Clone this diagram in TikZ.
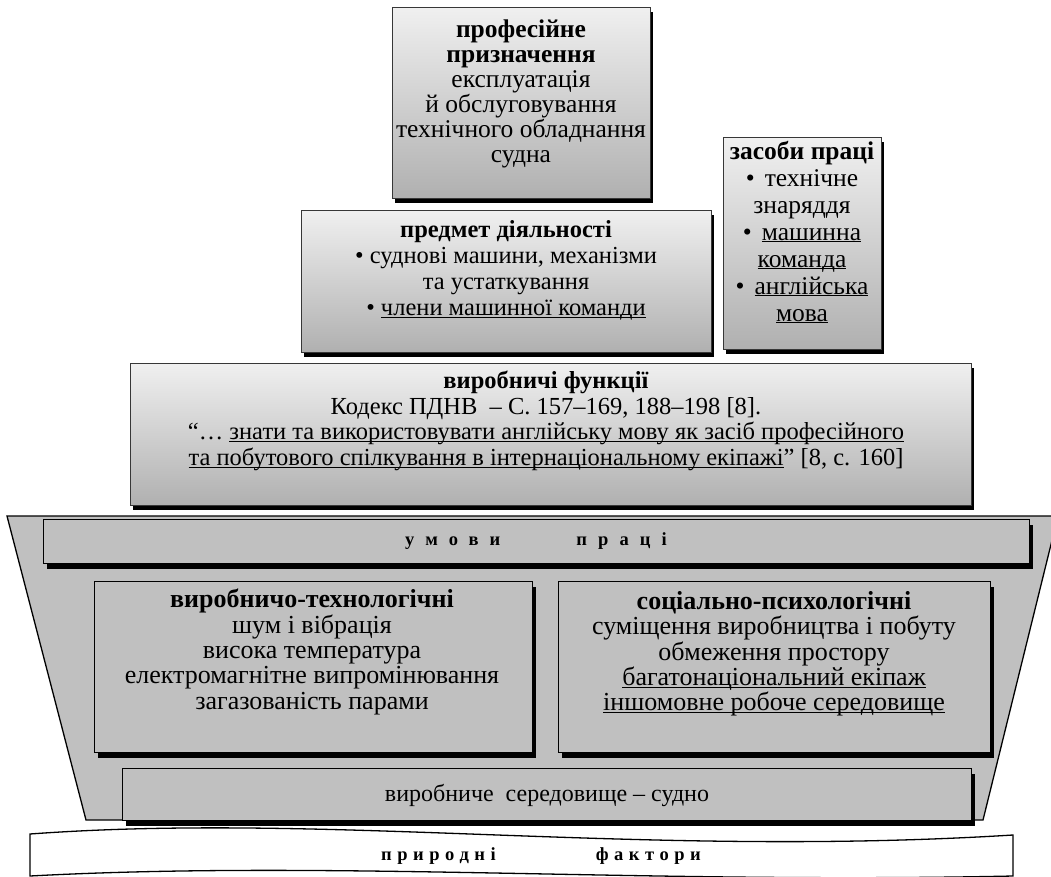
\documentclass[tikz,border=0pt]{standalone}
\usepackage{fontspec}
\setmainfont{Liberation Serif}
\usetikzlibrary{shadows}
\definecolor{bandgray}{RGB}{192,192,192}
\definecolor{boxedge}{RGB}{55,55,55}
\newcommand{\undl}[1]{\underline{\smash{#1}}}
\newcommand{\bul}{•\hspace{10pt}}
\tikzset{
  upbox/.style={draw=boxedge, line width=0.9pt, top color=white!94!black, bottom color=black!31, anchor=north west, inner sep=0pt,
    drop shadow={shadow xshift=3pt, shadow yshift=-5pt, fill=black, opacity=1}},
  lowbox/.style={draw=black, line width=1.1pt, fill=bandgray, anchor=north west, inner sep=0pt,
    drop shadow={shadow xshift=3pt, shadow yshift=-5pt, fill=black, opacity=1}},
  txt/.style={align=center, inner sep=0pt, font=\fontsize{26}{25.3}\selectfont},
  spaced/.style={inner sep=0pt, font=\fontsize{18.5}{20}\selectfont\bfseries\addfontfeature{LetterSpace=60}}
}

\begin{document}
\begin{tikzpicture}[x=1pt,y=-1pt]
  \useasboundingbox (0,0) rectangle (1051,877);

  % upper part
  \node[upbox, minimum width=258pt, minimum height=191pt] (prof) at (392,7) {};
  \node[txt, font=\fontsize{25.5}{25}\selectfont] (prof-t) at (521,94) {\textbf{професійне}\\\textbf{призначення}\\експлуатація\\й обслуговування\\технічного обладнання\\судна};

  \node[upbox, minimum width=158pt, minimum height=212pt] (zasob) at (723,137) {};
  \node[txt, font=\fontsize{25.5}{27}\selectfont] (zasob-t) at (802,232) {\textbf{засоби праці}\\\bul технічне\\знаряддя\\\bul\undl{машинна}\\\undl{команда}\\\bul\undl{англійська}\\\undl{мова}};

  \node[upbox, minimum width=410pt, minimum height=142pt] (predmet) at (301,210) {};
  \node[txt, font=\fontsize{24.5}{26}\selectfont] (predmet-t) at (506,269) {\textbf{предмет діяльності}\\• суднові машини, механізми\\та устаткування\\• \undl{члени машинної команди}};

  \node[upbox, minimum width=841pt, minimum height=142pt] (funk) at (130,363) {};
  \node[txt, font=\fontsize{24.5}{25.7}\selectfont] (funk-t) at (546,420) {\textbf{виробничі функції}\\Кодекс ПДНВ~ – С. 157–169, 188–198 [8].\\“… \undl{знати та використовувати англійську мову як засіб професійного}\\\undl{та побутового спілкування в інтернаціональному екіпажі}” [8, с. 160]};

  % conditions of work
  \path[draw=black, line width=1.3pt, fill=bandgray] (7,516) -- (1058,516) -- (983,820) -- (86,820) -- cycle;

  \node[lowbox, minimum width=986pt, minimum height=44pt] (umovy) at (43,519) {};
  \node[spaced] (umovy-t) at (536,541) {умови\hspace{76pt}праці};

  \node[lowbox, minimum width=438pt, minimum height=171pt] (tech) at (94,581) {};
  \node[txt] (tech-t) at (312,652) {\textbf{виробничо-технологічні}\\шум і вібрація\\висока температура\\електромагнітне випромінювання\\загазованість парами};

  \node[lowbox, minimum width=432pt, minimum height=171pt] (soc) at (558,581) {};
  \node[txt] (soc-t) at (774,652) {\textbf{соціально-психологічні}\\суміщення виробництва і побуту\\обмеження простору\\\undl{багатонаціональний екіпаж}\\\undl{іншомовне робоче середовище}};

  \node[lowbox, minimum width=849pt, minimum height=52pt] (sered) at (122,768) {};
  \node[txt, font=\fontsize{24}{25}\selectfont] (sered-t) at (547,795) {виробниче~ середовище – судно};

  % natural factors
  \path[draw=black, line width=1.3pt, fill=white] (30,834) .. controls (330,812) and (640,858) .. (1013,835)
    -- (1013,876) .. controls (640,884) and (330,860) .. (30,876) -- cycle;
  \node[spaced, font=\fontsize{18.5}{20}\selectfont\bfseries\addfontfeature{LetterSpace=30}] (pryr-t) at (541,856) {природні\hspace{100pt}фактори};
\end{tikzpicture}
\end{document}
